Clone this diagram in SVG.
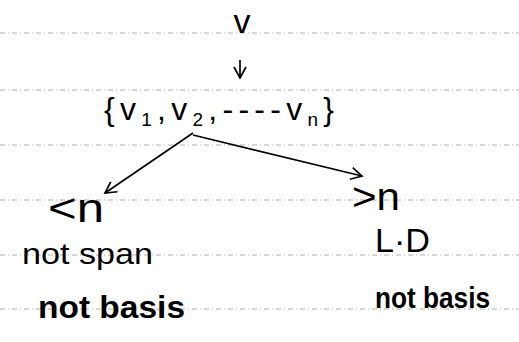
<svg xmlns="http://www.w3.org/2000/svg" width="519" height="342" viewBox="0 0 519 342">
<style>
.t{font-family:"Liberation Sans","DejaVu Sans",sans-serif;fill:#000}
.rule{stroke:#b0b0b0;stroke-width:1;stroke-dasharray:5 3 1 3}
.c{fill:none;stroke:#000;stroke-width:1.7}
.b{font-weight:bold}
</style>
<defs>
<marker id="ah" viewBox="0 0 14 14" refX="12" refY="7" markerWidth="14" markerHeight="14" markerUnits="userSpaceOnUse" orient="auto">
<path d="M1 1 L12 7 L1 13" fill="none" stroke="#000" stroke-width="1.7"/>
</marker>
</defs>
<rect width="519" height="342" fill="#fff"/>
<g id="paper">
<line class="rule" x1="0" y1="33" x2="519" y2="33"/>
<line class="rule" x1="0" y1="90" x2="519" y2="90"/>
<line class="rule" x1="0" y1="145" x2="519" y2="145"/>
<line class="rule" x1="0" y1="200" x2="519" y2="200"/>
<line class="rule" x1="0" y1="255" x2="519" y2="255"/>
<line class="rule" x1="0" y1="309" x2="519" y2="309"/>
</g>
<g id="connectors">
<line class="c" x1="240" y1="60" x2="240" y2="78" marker-end="url(#ah)"/>
<path class="c" d="M193 133 L105 193" marker-end="url(#ah)"/>
<path class="c" d="M193 135 L362 176" marker-end="url(#ah)"/>
</g>
<g id="node-v"><text class="t" x="242" y="33" font-size="34" text-anchor="middle">v</text></g>
<g id="node-set"><text class="t" x="104" y="120" font-size="32" textLength="230" lengthAdjust="spacing">{v<tspan font-size="19" dy="6">1</tspan><tspan dy="-6">,v</tspan><tspan font-size="19" dy="6">2</tspan><tspan dy="-6">,----v</tspan><tspan font-size="19" dy="6">n</tspan><tspan dy="-6">}</tspan></text></g>
<g id="node-less">
<text class="t" x="48" y="222" font-size="40" textLength="56" lengthAdjust="spacingAndGlyphs">&lt;n</text>
<text class="t" x="22" y="264" font-size="30" textLength="131" lengthAdjust="spacingAndGlyphs">not span</text>
<text class="t b" x="38" y="318" font-size="32" textLength="147" lengthAdjust="spacingAndGlyphs">not basis</text>
</g>
<g id="node-more">
<text class="t" x="352" y="210" font-size="38" textLength="48" lengthAdjust="spacingAndGlyphs">&gt;n</text>
<text class="t" x="375" y="252" font-size="34" textLength="55" lengthAdjust="spacingAndGlyphs">L·D</text>
<text class="t b" x="375" y="308" font-size="30" textLength="115" lengthAdjust="spacingAndGlyphs">not basis</text>
</g>
</svg>
